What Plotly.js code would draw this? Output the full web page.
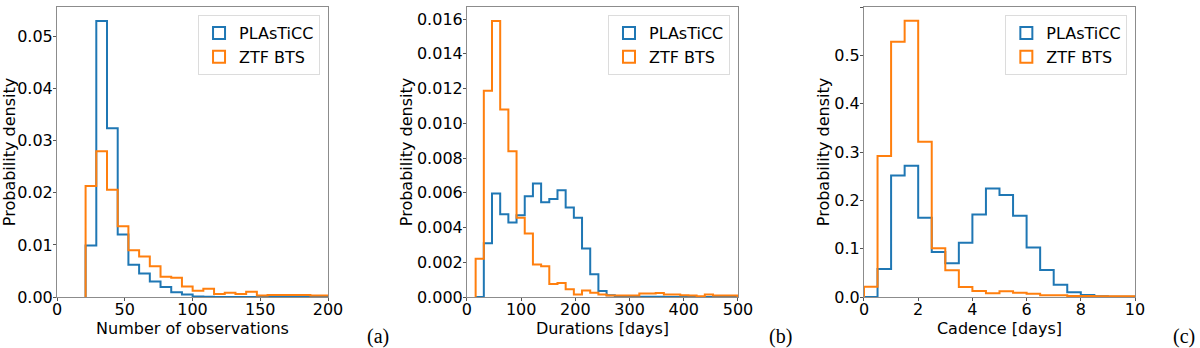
<!DOCTYPE html>
<html>
<head>
<meta charset="utf-8">
<script src="https://cdn.plot.ly/plotly-3.0.1.min.js"></script>
<style>
  body { margin: 0; background: #fff; }
  #plot { width: 1200px; height: 348px; }
</style>
</head>
<body>
<div id="plot"></div>
<script>
// (a) number of observations, bins of ~7.9 starting at 21.1
var obsStart = 21.1, obsWidth = 7.9;
var obsPlasticc = [0.0099, 0.053, 0.0324, 0.012, 0.0062, 0.0045, 0.003, 0.0019, 0.0009, 0.0005,
    0.0001, 0.00003, 0.00002, 0.00001, 0.00001, 0, 0, 0, 0, 0, 0, 0, 0];
var obsZtf = [0.0213, 0.028, 0.0206, 0.0136, 0.009, 0.0078, 0.0059, 0.0039, 0.0037, 0.002,
    0.0012, 0.0016, 0.0006, 0.0008, 0.0006, 0.001, 0.0003, 0.0004, 0.0004, 0.0004, 0.0004, 0.0003, 0.0003];

// (b) durations in days, bins of ~15.1 starting at 16
var durStart = 16, durWidth = 15.1;
var durPlasticc = [0, 0.0031, 0.00596, 0.00477, 0.00429, 0.00471, 0.0058, 0.00654, 0.00546, 0.00565,
    0.00615, 0.00515, 0.00456, 0.00279, 0.00131, 0.00035, 0.0001, 0.00005, 0.00003, 0.00002,
    0.00002, 0.00001, 0.00001, 0, 0, 0, 0, 0, 0, 0, 0, 0];
var durZtf = [0.0022, 0.01188, 0.0159, 0.0108, 0.0084, 0.00456, 0.00365, 0.00187, 0.00177, 0.00075,
    0.00081, 0.00044, 0.00015, 0.00038, 0.00025, 0.00015, 0.00008, 0.00008, 0.00008, 0.00008,
    0.0002, 0.0002, 0.00023, 0.00015, 0.00015, 0.0001, 0.00008, 0.00004, 0.00015, 0.00008, 0.00008, 0.00008];

// (c) cadence in days, bins of 0.5 starting at 0
var cadStart = 0, cadWidth = 0.5;
var cadPlasticc = [0, 0.058, 0.2516, 0.2717, 0.1638, 0.0933, 0.0698, 0.112, 0.1707, 0.2246,
    0.2108, 0.168, 0.1023, 0.056, 0.0256, 0.0097, 0.004, 0.0014, 0.0007, 0.0005];
var cadZtf = [0.0214, 0.2917, 0.528, 0.5717, 0.3214, 0.1009, 0.0553, 0.0207, 0.0124, 0.0076,
    0.0118, 0.009, 0.0069, 0.0035, 0.0035, 0.002, 0.002, 0.0014, 0.0014, 0.0014];

var seriesNames = ['PLAsTiCC', 'ZTF BTS'];
var blue = '#1f77b4', orange = '#ff7f0e';

function edgesFor(start, width, n) {
    var e = [];
    for (var i = 0; i <= n; i++) e.push(start + i * width);
    return e;
}

// histtype='step' outline: go up at the first edge, step across, drop at the last edge
function stepTrace(start, width, vals, color, xa, ya) {
    var e = edgesFor(start, width, vals.length);
    var xs = [e[0]], ys = [0];
    for (var i = 0; i < vals.length; i++) {
        xs.push(e[i]);
        ys.push(vals[i]);
    }
    xs.push(e[vals.length]);
    ys.push(0);
    return {
        x: xs, y: ys, xaxis: xa, yaxis: ya,
        type: 'scatter', mode: 'lines',
        line: { color: color, width: 2, shape: 'hv' },
        showlegend: false, hoverinfo: 'skip'
    };
}

// empty bars only to get the outlined-box legend symbol
function legendTrace(name, color, xa, ya, lg) {
    return {
        x: [null], y: [null], xaxis: xa, yaxis: ya, type: 'bar', name: name,
        marker: { color: 'rgba(0,0,0,0)', line: { color: color, width: 2 } },
        legend: lg, showlegend: true
    };
}

var traces = [
    stepTrace(obsStart, obsWidth, obsPlasticc, blue, 'x', 'y'),
    stepTrace(obsStart, obsWidth, obsZtf, orange, 'x', 'y'),
    stepTrace(durStart, durWidth, durPlasticc, blue, 'x2', 'y2'),
    stepTrace(durStart, durWidth, durZtf, orange, 'x2', 'y2'),
    stepTrace(cadStart, cadWidth, cadPlasticc, blue, 'x3', 'y3'),
    stepTrace(cadStart, cadWidth, cadZtf, orange, 'x3', 'y3'),
    legendTrace(seriesNames[0], blue, 'x', 'y', 'legend'),
    legendTrace(seriesNames[1], orange, 'x', 'y', 'legend'),
    legendTrace(seriesNames[0], blue, 'x2', 'y2', 'legend2'),
    legendTrace(seriesNames[1], orange, 'x2', 'y2', 'legend2'),
    legendTrace(seriesNames[0], blue, 'x3', 'y3', 'legend3'),
    legendTrace(seriesNames[1], orange, 'x3', 'y3', 'legend3')
];

function xAxis(dom, range, dtick, title, anchor) {
    return {
        domain: dom, range: range, dtick: dtick, tick0: 0, anchor: anchor,
        showgrid: false, zeroline: false, showline: true, mirror: true,
        linecolor: '#8c8c8c', linewidth: 1, ticks: 'outside', ticklen: 3,
        tickcolor: '#555', tickfont: { size: 16, color: '#000' },
        ticklabelstandoff: -5,
        title: { text: title, font: { size: 16, color: '#000' }, standoff: 0 }
    };
}

function yAxis(range, dtick, fmt, anchor) {
    return {
        range: range, dtick: dtick, tick0: 0, tickformat: fmt, anchor: anchor,
        showgrid: false, zeroline: false, showline: true, mirror: true,
        linecolor: '#8c8c8c', linewidth: 1, ticks: 'outside', ticklen: 3,
        tickcolor: '#555', tickfont: { size: 16, color: '#000' },
        ticklabelstandoff: -3,
        title: { text: 'Probability density', font: { size: 16, color: '#000' }, standoff: 0 }
    };
}

function legendBox(x) {
    return {
        x: x, y: 0.972, xanchor: 'right', yanchor: 'top',
        bgcolor: 'rgba(255,255,255,0.8)', bordercolor: '#dcdcdc', borderwidth: 1,
        font: { size: 16, color: '#000' }, traceorder: 'normal'
    };
}

var layout = {
    width: 1200, height: 348,
    margin: { l: 57, r: 65, t: 7, b: 51 },
    paper_bgcolor: '#fff', plot_bgcolor: '#fff',
    font: { family: 'DejaVu Sans', color: '#000' },
    xaxis: xAxis([0, 0.2514], [0, 200], 50, 'Number of observations', 'y'),
    yaxis: yAxis([0, 0.0557], 0.01, '.2f', 'x'),
    xaxis2: xAxis([0.3803, 0.6317], [0, 500], 100, 'Durations [days]', 'y2'),
    yaxis2: yAxis([0, 0.0167], 0.002, '.3f', 'x2'),
    xaxis3: xAxis([0.7486, 1], [0, 10], 2, 'Cadence [days]', 'y3'),
    yaxis3: yAxis([0, 0.6], 0.1, '.1f', 'x3'),
    legend: legendBox(0.244),
    legend2: legendBox(0.6243),
    legend3: legendBox(0.9929),
    annotations: [
        { text: '(a)', x: 0.2982, y: -0.1345 },
        { text: '(b)', x: 0.6716, y: -0.1345 },
        { text: '(c)', x: 1.0459, y: -0.1345 }
    ].map(function (a) {
        a.xref = 'paper'; a.yref = 'paper'; a.showarrow = false;
        a.xanchor = 'center'; a.yanchor = 'middle';
        a.font = { family: 'Liberation Serif', size: 20, color: '#000' };
        return a;
    })
};

var plotElement = document.getElementById('plot');
if (plotElement) {
    Plotly.newPlot('plot', traces, layout, { staticPlot: true });
} else {
    console.error("No DOM element with id 'plot' exists on the page.");
}
</script>
</body>
</html>
